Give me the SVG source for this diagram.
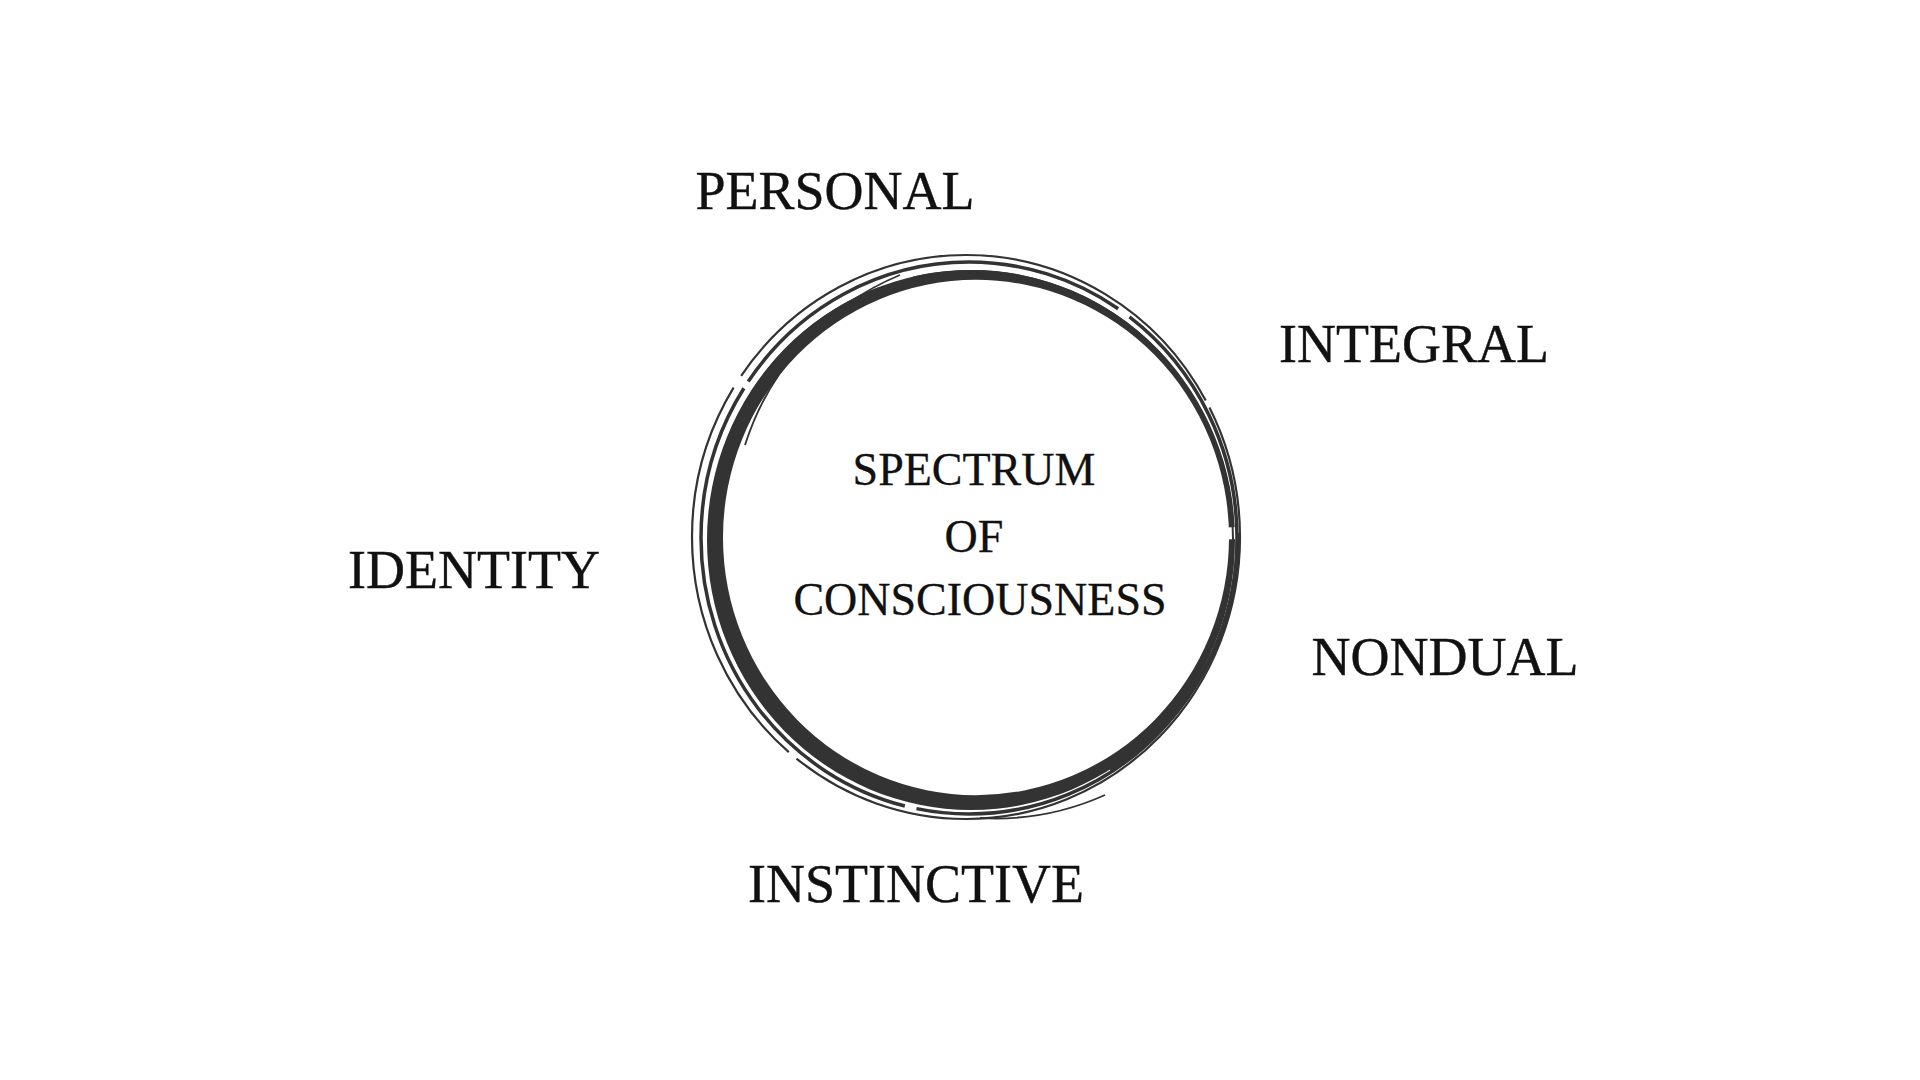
<svg xmlns="http://www.w3.org/2000/svg" width="1920" height="1080" viewBox="0 0 1920 1080">
  <style>
    .lbl { font-family: "Liberation Serif", "Times New Roman", serif; font-size: 54px; fill: #111; stroke: #111; stroke-width: 0.4; text-anchor: middle; }
    .ctr { font-family: "Liberation Serif", "Times New Roman", serif; font-size: 46px; fill: #111; stroke: #111; stroke-width: 0.3; text-anchor: middle; }
    .thin { fill: none; stroke: #333; }
  </style>
  <defs>
    <mask id="gap">
      <rect x="0" y="0" width="1920" height="1080" fill="#fff"/>
      <polygon points="1215,528 1260,526 1260,538 1215,540" fill="#000"/>
    </mask>
  </defs>
  <rect width="1920" height="1080" fill="#fff"/>

  <g id="ring">
    <!-- thick brush band -->
    <path fill="#333" fill-rule="evenodd" mask="url(#gap)"
      d="M 707 540 A 264 270 0 1 0 1235 540 A 264 270 0 1 0 707 540 Z
         M 723 537.5 A 253 257.5 0 1 1 1229 537.5 A 253 257.5 0 1 1 723 537.5 Z"/>
    <!-- lower right stroke offset outward -->
    <path class="thin" stroke-width="4" d="M 1238 533 A 268 272 0 0 1 1110 770"/>
    <!-- thin sketch strokes -->
    <ellipse class="thin" cx="966" cy="537" rx="274" ry="282" stroke-width="2.2" stroke-dasharray="620 10 400 14 560 8 200 16"/>
    <ellipse class="thin" cx="969" cy="538" rx="268" ry="276" stroke-width="3.5" stroke-dasharray="480 12 520 8 420 14 300 12"/>
    <ellipse class="thin" cx="971" cy="539" rx="262" ry="268" stroke-width="2" stroke-dasharray="300 30 420 24 380 36 300 40"/>
    <path class="thin" stroke-width="1.8" d="M 745 445 A 270 275 0 0 1 900 275"/>
    <path class="thin" stroke-width="1.8" d="M 980 818 A 272 278 0 0 0 1105 795"/>
  </g>

  <g id="center-label">
    <text class="ctr" x="974" y="485">SPECTRUM</text>
    <text class="ctr" x="974" y="552">OF</text>
    <text class="ctr" x="980" y="615">CONSCIOUSNESS</text>
  </g>

  <g id="personal"><text class="lbl" x="835" y="209">PERSONAL</text></g>
  <g id="integral"><text class="lbl" x="1414" y="362">INTEGRAL</text></g>
  <g id="identity"><text class="lbl" x="474" y="588">IDENTITY</text></g>
  <g id="nondual"><text class="lbl" x="1445" y="675">NONDUAL</text></g>
  <g id="instinctive"><text class="lbl" x="916" y="902">INSTINCTIVE</text></g>

  <g id="connectors"></g>
</svg>
